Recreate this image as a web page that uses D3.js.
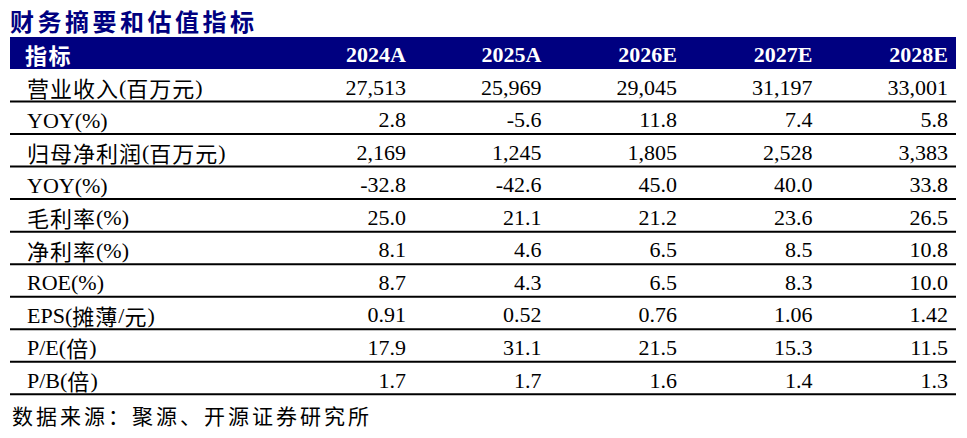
<!DOCTYPE html>
<html>
<head>
<meta charset="utf-8">
<script src="https://cdn.jsdelivr.net/npm/d3@7"></script>
<style>
  body { margin: 0; background: #fff; }
  svg { display: block; }
</style>
</head>
<body>
<div id="container"></div>
<script>
/* DATA */
const title = "财务摘要和估值指标";
const headerLabel = "指标";
const years = ["2024A", "2025A", "2026E", "2027E", "2028E"];
const metrics = ["营业收入(百万元)", "YOY(%)", "归母净利润(百万元)", "YOY(%)", "毛利率(%)",
                 "净利率(%)", "ROE(%)", "EPS(摊薄/元)", "P/E(倍)", "P/B(倍)"];
const revenue   = [27513, 25969, 29045, 31197, 33001];
const revYoy    = [2.8, -5.6, 11.8, 7.4, 5.8];
const netProfit = [2169, 1245, 1805, 2528, 3383];
const profitYoy = [-32.8, -42.6, 45.0, 40.0, 33.8];
const grossMargin = [25.0, 21.1, 21.2, 23.6, 26.5];
const netMargin = [8.1, 4.6, 6.5, 8.5, 10.8];
const roe       = [8.7, 4.3, 6.5, 8.3, 10.0];
const eps       = [0.91, 0.52, 0.76, 1.06, 1.42];
const pe        = [17.9, 31.1, 21.5, 15.3, 11.5];
const pb        = [1.7, 1.7, 1.6, 1.4, 1.3];
const source = "数据来源：聚源、开源证券研究所";

const rows = [revenue, revYoy, netProfit, profitYoy, grossMargin, netMargin, roe, eps, pe, pb];
const fmt = [",.0f", ".1f", ",.0f", ".1f", ".1f", ".1f", ".1f", ".2f", ".1f", ".1f"];

/* CONSTANTS */
const W = 967, H = 438;
const navy = "#000080";
const left = 10, right = 956;
const headTop = 37, headBottom = 69, tableBottom = 394.3;
const serif = "'Liberation Serif','Times New Roman', serif";
const cjk = "'Noto Sans CJK SC', sans-serif";
const cjkRe = /([\u3000-\u9fff\uff00-\uffef]+)/;

const svg = d3.select("#container")
  .append("svg")
  .attr("width", W)
  .attr("height", H);

/* SCALES */
const yScale = d3.scaleBand()
  .domain(d3.range(metrics.length))
  .range([headBottom, tableBottom])
  .paddingInner(0);

const xScale = d3.scaleLinear()
  .domain([0, years.length - 1])
  .range([406, 948]);

/* TITLE */
svg.append("text")
  .attr("x", left)
  .attr("y", 31)
  .style("font-family", cjk)
  .style("font-weight", "bold")
  .style("font-size", "24px")
  .style("letter-spacing", "3.5px")
  .style("fill", navy)
  .text(title);

/* HEADER */
svg.append("rect")
  .attr("x", left)
  .attr("y", headTop)
  .attr("width", right - left)
  .attr("height", headBottom - headTop)
  .attr("fill", navy);

svg.append("text")
  .attr("x", 25)
  .attr("y", (headTop + headBottom) / 2 + 1)
  .attr("dominant-baseline", "central")
  .style("font-family", cjk)
  .style("font-weight", "bold")
  .style("font-size", "22px")
  .style("letter-spacing", "1.5px")
  .style("fill", "#fff")
  .text(headerLabel);

svg.append("g")
  .selectAll("text")
  .data(years)
  .join("text")
  .attr("x", (d, i) => xScale(i))
  .attr("y", (headTop + headBottom) / 2 + 1.5)
  .attr("dominant-baseline", "central")
  .attr("text-anchor", "end")
  .style("font-family", serif)
  .style("font-weight", "bold")
  .style("font-size", "22px")
  .style("fill", "#fff")
  .text(d => d);

/* ROWS */
const rowG = svg.append("g")
  .selectAll("g")
  .data(rows)
  .join("g")
  .attr("transform", (d, i) => `translate(0,${yScale(i)})`);

const labels = rowG.append("text")
  .attr("x", 27)
  .attr("y", yScale.bandwidth() / 2 + 2)
  .attr("dominant-baseline", "central")
  .style("font-size", "22px")
  .style("fill", "#000");

labels.selectAll("tspan")
  .data((d, i) => metrics[i].split(cjkRe).filter(s => s.length))
  .join("tspan")
  .attr("dominant-baseline", "central")
  .style("font-family", s => cjkRe.test(s) ? cjk : serif)
  .style("letter-spacing", s => cjkRe.test(s) ? "1px" : "0px")
  .text(s => s);

rowG.selectAll("text.val")
  .data((d, i) => d.map(v => ({v, f: fmt[i]})))
  .join("text")
  .attr("class", "val")
  .attr("x", (d, j) => xScale(j))
  .attr("y", yScale.bandwidth() / 2 + 2)
  .attr("dominant-baseline", "central")
  .attr("text-anchor", "end")
  .style("font-family", serif)
  .style("font-size", "22px")
  .style("fill", "#000")
  .text(d => d3.format(d.f)(d.v).replace("−", "-"));

rowG.append("line")
  .attr("x1", left)
  .attr("x2", right)
  .attr("y1", yScale.bandwidth())
  .attr("y2", yScale.bandwidth())
  .attr("stroke", "#000")
  .attr("stroke-width", 2);

/* FOOTER */
svg.append("text")
  .attr("x", 12)
  .attr("y", 424)
  .style("font-family", cjk)
  .style("font-size", "21px")
  .style("letter-spacing", "3px")
  .style("fill", "#000")
  .text(source);
</script>
</body>
</html>
